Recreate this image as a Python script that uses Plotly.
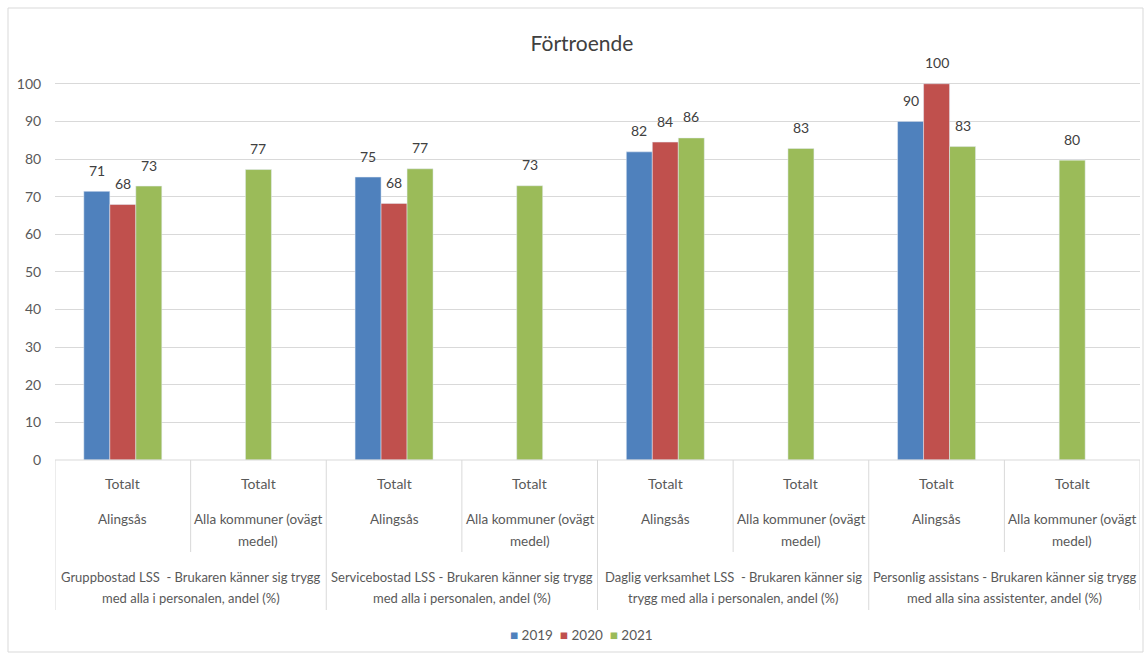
import plotly.graph_objects as go

# ---- data ----
cat_ids = ["c1", "c2", "c3", "c4", "c5", "c6", "c7", "c8"]
level1 = ["Totalt"] * 8
level2 = ["Alingsås", "Alla kommuner (ovägt<br>medel)"] * 4
groups = [
    "Gruppbostad LSS  - Brukaren känner sig trygg<br>med alla i personalen, andel (%)",
    "Servicebostad LSS - Brukaren känner sig trygg<br>med alla i personalen, andel (%)",
    "Daglig verksamhet LSS  - Brukaren känner sig<br>trygg med alla i personalen, andel (%)",
    "Personlig assistans - Brukaren känner sig trygg<br>med alla sina assistenter, andel (%)",
]
years = ["2019", "2020", "2021"]
v2019 = [71.4, None, 75.2, None, 81.9, None, 90.0, None]
v2020 = [67.9, None, 68.2, None, 84.5, None, 100.0, None]
v2021_alingsas = [72.8, None, 77.4, None, 85.6, None, 83.3, None]
v2021_alla = [None, 77.2, None, 72.9, None, 82.8, None, 79.7]

FONT = "Lato, Roboto, sans-serif"
TXT = "#595959"
C19, C20, C21 = "#4F81BD", "#C0504D", "#9BBB59"

PLOT_W = 1147 - 55 - 7
BARGAP = 0.425
SLOT_PX = (1 - BARGAP) / 3 * PLOT_W / len(cat_ids)

fig = go.Figure()
series = [
    (v2019, years[0], C19, "a", -1),
    (v2020, years[1], C20, "b", 0),
    (v2021_alingsas, years[2], C21, "c", 1),
    (v2021_alla, years[2], C21, "b", 0),
]
annotations = []
for vals, name, col, og, slot in series:
    fig.add_bar(x=cat_ids, y=vals, name=name, marker_color=col, offsetgroup=og,
                legendgroup=name, showlegend=False, hoverinfo="skip")
    for cid, v in zip(cat_ids, vals):
        if v is None:
            continue
        annotations.append(dict(x=cid, y=v, xref="x", yref="y", text=f"{round(v):d}",
                                showarrow=False, xshift=slot * SLOT_PX, yshift=21,
                                yanchor="middle", xanchor="center",
                                font=dict(family=FONT, size=14, color="#404040")))

# plot area: x 55..1140 px, y 80..460 px
H = 380.0


def py(p):  # pixel y -> paper y
    return (460 - p) / H


shapes = []
for i, cid in enumerate(cat_ids):
    annotations.append(dict(x=cid, y=py(483), xref="x", yref="paper", text=level1[i],
                            showarrow=False, yanchor="middle",
                            font=dict(family=FONT, size=14, color=TXT)))
    for j, line in enumerate(level2[i].split("<br>")):
        annotations.append(dict(x=cid, y=py(519 + 22 * j), xref="x", yref="paper", text=line,
                                showarrow=False, yanchor="middle",
                                font=dict(family=FONT, size=13.5, color=TXT)))
for g, name in enumerate(groups):
    for j, line in enumerate(name.split("<br>")):
        annotations.append(dict(x=2 * g + 0.5, y=py(577 + 21 * j), xref="x", yref="paper",
                                text=line, showarrow=False, yanchor="middle",
                                font=dict(family=FONT, size=13, color=TXT)))

# legend (compact, Excel style)
legend_text = "  ".join(
    f"<span style='color:{c}'>■</span> {y}" for c, y in zip([C19, C20, C21], years)
)
annotations.append(dict(x=(581 - 55) / PLOT_W, y=py(635), xref="paper", yref="paper",
                        text=legend_text, showarrow=False, xanchor="center", yanchor="middle",
                        font=dict(family=FONT, size=13.5, color=TXT)))

LINE = dict(color="#D9D9D9", width=1)
for k in range(9):
    x = k - 0.5
    y1 = py(610) if k % 2 == 0 else py(552)
    shapes.append(dict(type="line", xref="x", yref="paper", x0=x, x1=x, y0=0, y1=y1, line=LINE))
shapes.append(dict(type="line", xref="paper", yref="paper", x0=0, x1=1, y0=0, y1=0, line=LINE))
# outer chart border
shapes.append(dict(type="rect", xref="paper", yref="paper",
                   x0=(8 - 55) / 1085, x1=(1143 - 55) / 1085, y0=py(652), y1=py(8),
                   line=dict(color="#D9D9D9", width=1), fillcolor="rgba(0,0,0,0)"))

fig.update_layout(
    width=1147, height=659,
    margin=dict(l=55, r=7, t=80, b=199),
    paper_bgcolor="white", plot_bgcolor="white",
    barmode="group", bargap=BARGAP, bargroupgap=0,
    title=dict(text="Förtroende", x=(582) / 1147, xanchor="center", y=1 - 44 / 659,
               yanchor="middle", font=dict(family=FONT, size=21, color="#404040")),
    xaxis=dict(type="category", showticklabels=False, showgrid=False, zeroline=False,
               showline=False, ticks="", range=[-0.5, 7.5]),
    yaxis=dict(range=[0, 101], tickvals=[0, 10, 20, 30, 40, 50, 60, 70, 80, 90, 100],
               showgrid=True, gridcolor="#D9D9D9", gridwidth=1, zeroline=False,
               showline=False, ticks="outside", ticklen=10, tickcolor="rgba(0,0,0,0)",
               tickfont=dict(family=FONT, size=14, color=TXT)),
    annotations=annotations, shapes=shapes,
    showlegend=False,
)

fig.write_html("out.html")
